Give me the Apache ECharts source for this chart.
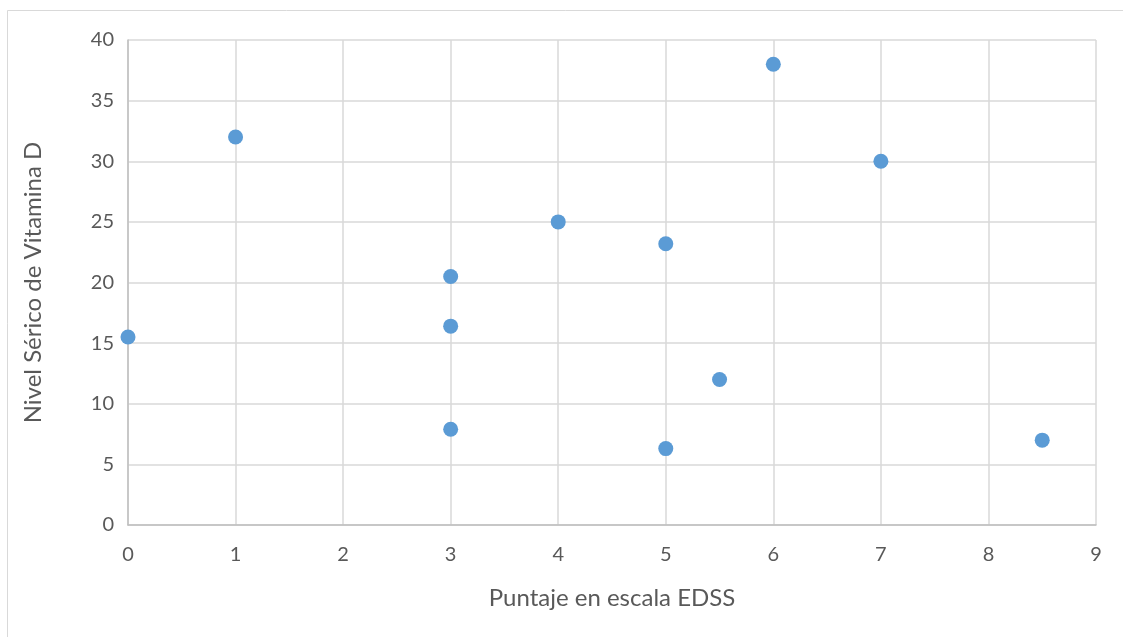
<!DOCTYPE html>
<html>
<head>
<meta charset="utf-8">
<script src="https://cdn.jsdelivr.net/npm/echarts@6/dist/echarts.min.js"></script>
<style>html,body{margin:0;padding:0;background:#fff}#c{width:1123px;height:637px}</style>
</head>
<body>
<div id="c"></div>
<script>
const xValues = [0, 1, 3, 3, 3, 4, 5, 5, 5.5, 6, 7, 8.5];
const yValues = [15.5, 32, 20.5, 16.4, 7.9, 25, 23.2, 6.3, 12, 38, 30, 7];
const xTitle = 'Puntaje en escala EDSS';
const yTitle = 'Nivel Sérico de Vitamina D';

const chart = echarts.init(document.getElementById('c'));
const font = 'Lato, "Open Sans", sans-serif';
chart.setOption({
  animation: false,
  backgroundColor: '#fff',
  grid: {left: 128, right: 27, top: 40, bottom: 112},
  graphic: [
    {type: 'line', shape: {x1: 7.5, y1: 10.5, x2: 1123, y2: 10.5}, style: {stroke: '#d9d9d9', lineWidth: 1}},
    {type: 'line', shape: {x1: 7.5, y1: 10.5, x2: 7.5, y2: 637}, style: {stroke: '#d9d9d9', lineWidth: 1}}
  ],
  xAxis: {
    type: 'value', min: 0, max: 9, interval: 1,
    name: xTitle, nameLocation: 'middle', nameGap: 61,
    nameTextStyle: {fontFamily: font, fontSize: 24, color: '#595959'},
    axisLine: {show: true, onZero: false, lineStyle: {color: '#bfbfbf', width: 1.5}},
    axisTick: {show: false},
    axisLabel: {fontFamily: font, fontSize: 20, color: '#595959', margin: 20},
    splitLine: {show: true, lineStyle: {color: '#d9d9d9', width: 1.5}}
  },
  yAxis: {
    type: 'value', min: 0, max: 40, interval: 5,
    name: yTitle, nameLocation: 'middle', nameGap: 83, nameRotate: 90,
    nameTextStyle: {fontFamily: font, fontSize: 24, color: '#595959'},
    axisLine: {show: true, lineStyle: {color: '#bfbfbf', width: 1.5}},
    axisTick: {show: false},
    axisLabel: {fontFamily: font, fontSize: 20, color: '#595959', margin: 14},
    splitLine: {show: true, lineStyle: {color: '#d9d9d9', width: 1.5}}
  },
  series: [{
    type: 'scatter',
    symbol: 'circle',
    symbolSize: 15,
    itemStyle: {color: '#5b9bd5', opacity: 1},
    data: xValues.map((x, i) => [x, yValues[i]])
  }]
});
</script>
</body>
</html>
